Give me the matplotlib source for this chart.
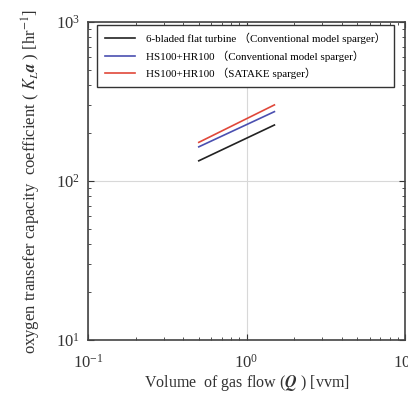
import numpy as np
import matplotlib
matplotlib.use("Agg")
import matplotlib.pyplot as plt
from matplotlib.ticker import LogLocator, NullFormatter

plt.rcParams['font.family'] = ['Liberation Serif', 'Noto Sans CJK JP']
plt.rcParams['mathtext.fontset'] = 'stix'

# gas flow [vvm] and KLa [1/hr]
q = [0.5, 1.5]
kla_turbine = [134, 225]
kla_hs_conv = [164, 273]
kla_hs_satake = [175, 301]

labels = ["6-bladed flat turbine （Conventional model sparger）",
          "HS100+HR100 （Conventional model sparger）",
          "HS100+HR100 （SATAKE sparger）"]
colors = ["#222222", "#4a4fb0", "#e0483a"]

fig = plt.figure(figsize=(4.08, 3.95), dpi=100)
ax = fig.add_axes([88/408, 1 - 340/395, (405-88)/408, (340-22)/395])

for y, lab, c in zip([kla_turbine, kla_hs_conv, kla_hs_satake], labels, colors):
    ax.plot(q, y, color=c, lw=1.2, label=lab)

ax.set_xscale('log')
ax.set_yscale('log')
ax.set_xlim(0.1, 10)
ax.set_ylim(10, 1000)

ax.grid(True, which='major', color='#d8d8d8', lw=0.8)
ax.tick_params(which='both', direction='in', top=True, right=True, labelsize=12, colors='#333333')
ax.tick_params(which='major', length=4)
ax.tick_params(which='minor', length=2.5)
ax.tick_params(axis='x', which='major', pad=10)
ax.tick_params(axis='y', which='major', pad=6)
ax.xaxis.set_minor_locator(LogLocator(base=10, subs=np.arange(2, 10)))
ax.yaxis.set_minor_locator(LogLocator(base=10, subs=np.arange(2, 10)))
ax.xaxis.set_minor_formatter(NullFormatter())
ax.yaxis.set_minor_formatter(NullFormatter())
for s in ax.spines.values():
    s.set_color('#444444')
    s.set_linewidth(1.2)

ax.set_xlabel(r"Volume  of gas flow ($\boldsymbol{Q}$ ) [vvm]", fontsize=11.5, color='#333333', labelpad=1)
ax.set_ylabel(r"oxygen transefer capacity  coefficient ( $\boldsymbol{K_La}$ ) [hr$^{-1}$]",
              fontsize=12, color='#333333', labelpad=9)

leg = ax.legend(loc='upper left', bbox_to_anchor=(0.028, 0.99), borderaxespad=0,
                fontsize=7.9, frameon=True, fancybox=False, edgecolor='#333333', framealpha=1,
                handlelength=2.8, handletextpad=1.0, borderpad=0.7, labelspacing=0.55)
leg.get_frame().set_linewidth(1.0)

fig.savefig("out.png", dpi=100)
